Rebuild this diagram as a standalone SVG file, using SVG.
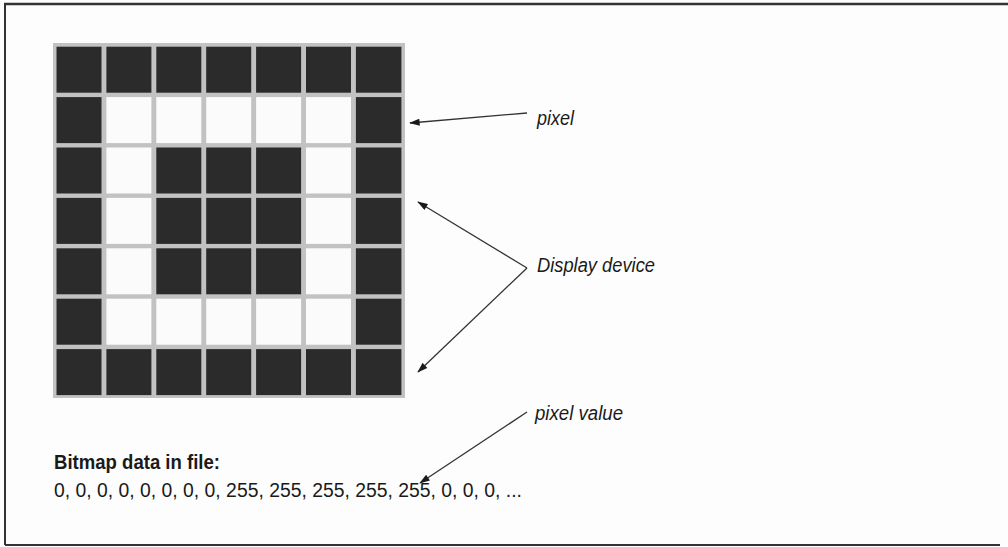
<svg xmlns="http://www.w3.org/2000/svg" width="1008" height="547" viewBox="0 0 1008 547">
<defs>
<style>
.d{fill:#2b2b2b}
.w{fill:#fbfbfb}
.lbl{font-family:"Liberation Sans Narrow","Liberation Sans",Arial,sans-serif;font-style:italic;font-size:20px;fill:#1a1a1a}
.txt{font-family:"Liberation Sans Narrow","Liberation Sans",Arial,sans-serif;font-size:19.5px;fill:#1a1a1a}
.conn{stroke:#333;stroke-width:1.3;fill:none;marker-end:url(#ah)}
</style>
<marker id="ah" viewBox="0 0 12 8" refX="11" refY="4" markerWidth="12" markerHeight="7" markerUnits="userSpaceOnUse" orient="auto">
<path d="M0,0 L12,4 L0,8 Z" fill="#1a1a1a"/>
</marker>
</defs>
<rect width="1008" height="547" fill="#fdfdfd"/>
<g id="page-frame" stroke="#333" fill="none">
<line x1="4" y1="4" x2="1008" y2="4" stroke-width="2.5"/>
<line x1="5" y1="4" x2="5" y2="545" stroke-width="2"/>
<line x1="5" y1="545" x2="1000" y2="545" stroke-width="2"/>
</g>
<g id="display-device">
<rect x="53" y="43" width="352" height="355" fill="#c2c2c2"/>
<rect class="d" x="56.5" y="46.7" width="45" height="46"/>
<rect class="d" x="106.4" y="46.7" width="45" height="46"/>
<rect class="d" x="156.3" y="46.7" width="45" height="46"/>
<rect class="d" x="206.2" y="46.7" width="45" height="46"/>
<rect class="d" x="256.1" y="46.7" width="45" height="46"/>
<rect class="d" x="306" y="46.7" width="45" height="46"/>
<rect class="d" x="355.9" y="46.7" width="45.5" height="46"/>
<rect class="d" x="56.5" y="97.1" width="45" height="46"/>
<rect class="w" x="106.4" y="97.1" width="45" height="46"/>
<rect class="w" x="156.3" y="97.1" width="45" height="46"/>
<rect class="w" x="206.2" y="97.1" width="45" height="46"/>
<rect class="w" x="256.1" y="97.1" width="45" height="46"/>
<rect class="w" x="306" y="97.1" width="45" height="46"/>
<rect class="d" x="355.9" y="97.1" width="45.5" height="46"/>
<rect class="d" x="56.5" y="147.5" width="45" height="46"/>
<rect class="w" x="106.4" y="147.5" width="45" height="46"/>
<rect class="d" x="156.3" y="147.5" width="45" height="46"/>
<rect class="d" x="206.2" y="147.5" width="45" height="46"/>
<rect class="d" x="256.1" y="147.5" width="45" height="46"/>
<rect class="w" x="306" y="147.5" width="45" height="46"/>
<rect class="d" x="355.9" y="147.5" width="45.5" height="46"/>
<rect class="d" x="56.5" y="197.9" width="45" height="46"/>
<rect class="w" x="106.4" y="197.9" width="45" height="46"/>
<rect class="d" x="156.3" y="197.9" width="45" height="46"/>
<rect class="d" x="206.2" y="197.9" width="45" height="46"/>
<rect class="d" x="256.1" y="197.9" width="45" height="46"/>
<rect class="w" x="306" y="197.9" width="45" height="46"/>
<rect class="d" x="355.9" y="197.9" width="45.5" height="46"/>
<rect class="d" x="56.5" y="248.3" width="45" height="46"/>
<rect class="w" x="106.4" y="248.3" width="45" height="46"/>
<rect class="d" x="156.3" y="248.3" width="45" height="46"/>
<rect class="d" x="206.2" y="248.3" width="45" height="46"/>
<rect class="d" x="256.1" y="248.3" width="45" height="46"/>
<rect class="w" x="306" y="248.3" width="45" height="46"/>
<rect class="d" x="355.9" y="248.3" width="45.5" height="46"/>
<rect class="d" x="56.5" y="298.7" width="45" height="46"/>
<rect class="w" x="106.4" y="298.7" width="45" height="46"/>
<rect class="w" x="156.3" y="298.7" width="45" height="46"/>
<rect class="w" x="206.2" y="298.7" width="45" height="46"/>
<rect class="w" x="256.1" y="298.7" width="45" height="46"/>
<rect class="w" x="306" y="298.7" width="45" height="46"/>
<rect class="d" x="355.9" y="298.7" width="45.5" height="46"/>
<rect class="d" x="56.5" y="349.1" width="45" height="46"/>
<rect class="d" x="106.4" y="349.1" width="45" height="46"/>
<rect class="d" x="156.3" y="349.1" width="45" height="46"/>
<rect class="d" x="206.2" y="349.1" width="45" height="46"/>
<rect class="d" x="256.1" y="349.1" width="45" height="46"/>
<rect class="d" x="306" y="349.1" width="45" height="46"/>
<rect class="d" x="355.9" y="349.1" width="45.5" height="46"/>
</g>
<g id="label-pixel">
<text class="lbl" x="537" y="125" textLength="37" lengthAdjust="spacingAndGlyphs">pixel</text>
</g>
<g id="label-display-device">
<text class="lbl" x="537" y="272" textLength="118" lengthAdjust="spacingAndGlyphs">Display device</text>
</g>
<g id="label-pixel-value">
<text class="lbl" x="535" y="420" textLength="88" lengthAdjust="spacingAndGlyphs">pixel value</text>
</g>
<g id="bitmap-data">
<text class="txt" x="54" y="469" font-weight="bold" textLength="166" lengthAdjust="spacingAndGlyphs">Bitmap data in file:</text>
<text class="txt" x="54" y="497" textLength="468" lengthAdjust="spacingAndGlyphs">0, 0, 0, 0, 0, 0, 0, 0, 255, 255, 255, 255, 255, 0, 0, 0,  ...</text>
</g>
<g id="connectors">
<line class="conn" x1="527" y1="113" x2="410" y2="123"/>
<line class="conn" x1="527" y1="268" x2="418" y2="202"/>
<line class="conn" x1="527" y1="268" x2="418" y2="372"/>
<line class="conn" x1="527" y1="412" x2="420" y2="483"/>
</g>
</svg>
